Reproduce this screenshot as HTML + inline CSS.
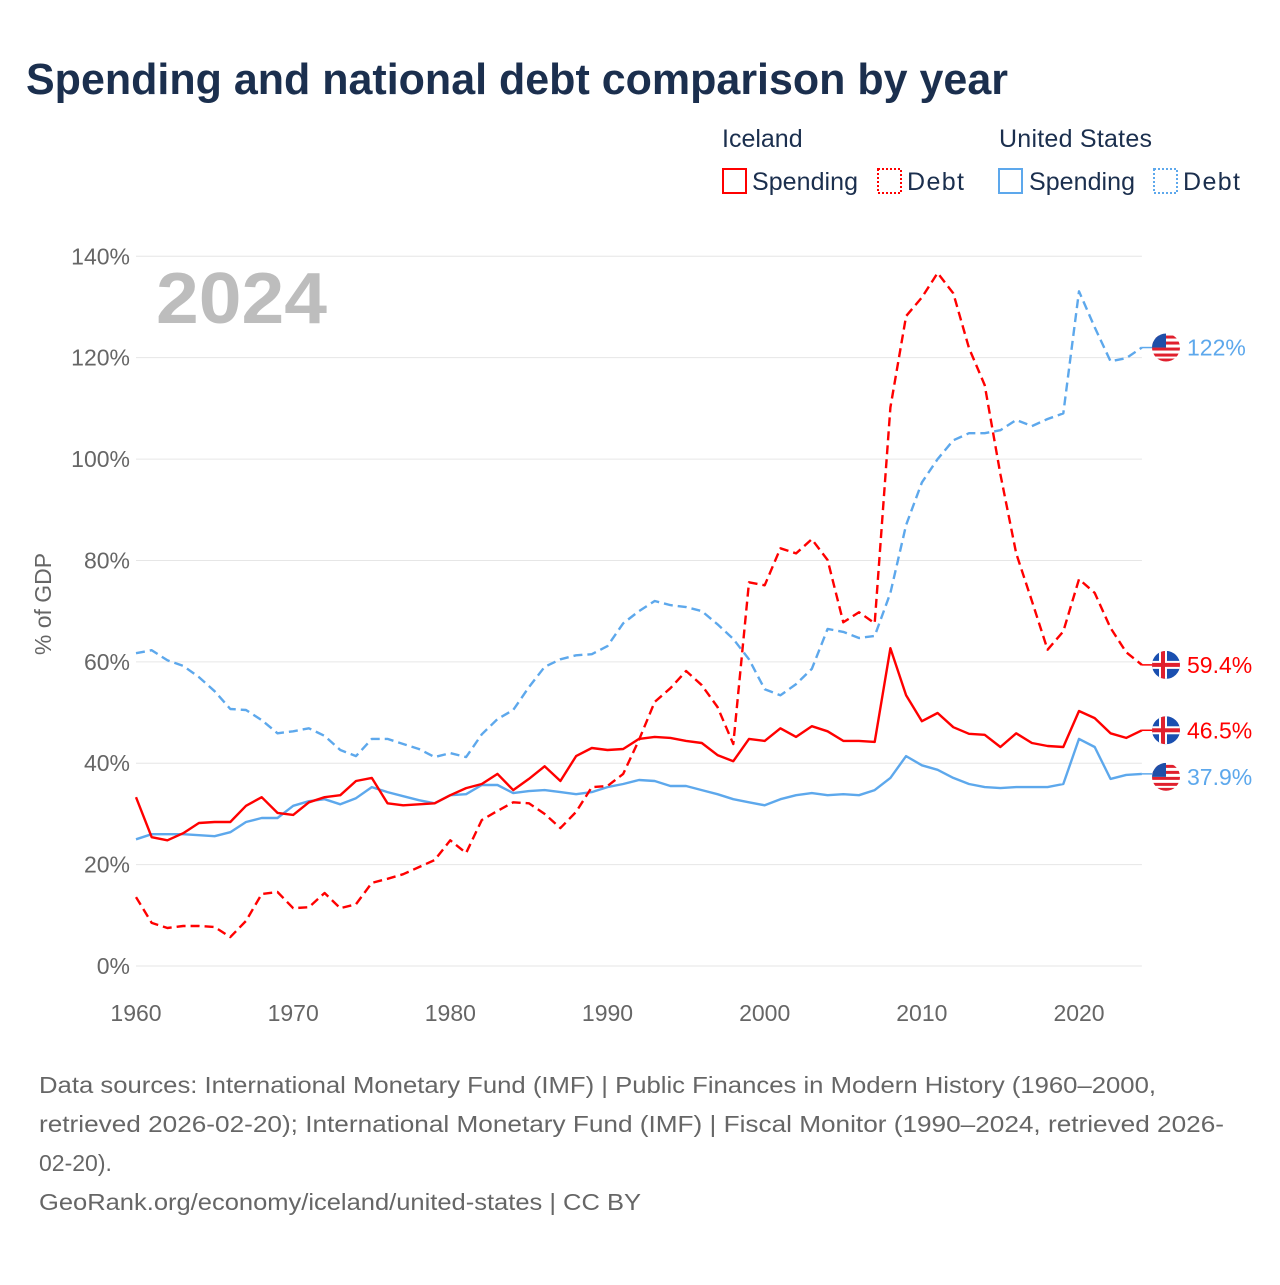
<!DOCTYPE html>
<html><head><meta charset="utf-8"><style>
body{margin:0;background:#fff;width:1280px;height:1280px;overflow:hidden;font-family:"Liberation Sans",sans-serif}
</style></head><body>
<svg id="chart" width="1280" height="1280" xmlns="http://www.w3.org/2000/svg">
<defs>
<clipPath id="cf"><circle cx="0" cy="0" r="14"/></clipPath>
<g id="usflag"><g clip-path="url(#cf)"><rect x="-14" y="-14" width="28" height="28" fill="#fff"/>
<rect x="-14" y="-12" width="28" height="3" fill="#e0202e"/><rect x="-14" y="-6" width="28" height="3" fill="#e0202e"/><rect x="-14" y="0" width="28" height="3" fill="#e0202e"/><rect x="-14" y="6" width="28" height="3" fill="#e0202e"/><rect x="-14" y="11" width="28" height="3" fill="#e0202e"/>
<rect x="-14" y="-14" width="14" height="14" fill="#1f4fa8"/></g></g>
<g id="isflag"><g clip-path="url(#cf)"><rect x="-14" y="-14" width="28" height="28" fill="#1a4fb0"/>
<rect x="-7" y="-14" width="8" height="28" fill="#fff"/><rect x="-14" y="-4" width="28" height="8" fill="#fff"/>
<rect x="-5" y="-14" width="4" height="28" fill="#e0202e"/><rect x="-14" y="-2" width="28" height="4" fill="#e0202e"/></g></g>
</defs>
<text x="26" y="94" font-size="44" font-weight="bold" fill="#1b2f4e" textLength="982" lengthAdjust="spacingAndGlyphs">Spending and national debt comparison by year</text>
<g font-size="25" fill="#1b2f4e">
<text x="722" y="147">Iceland</text>
<text x="999" y="147" textLength="153">United States</text>
<g><rect x="723" y="169" width="23" height="24" fill="none" stroke="#f00" stroke-width="2"/><text x="752" y="190" textLength="106">Spending</text></g>
<g><rect x="878" y="169" width="23" height="24" fill="none" stroke="#f00" stroke-width="2" stroke-dasharray="2,2"/><text x="907" y="190" textLength="57">Debt</text></g>
<g><rect x="999" y="169" width="23" height="24" fill="none" stroke="#5da8ec" stroke-width="2"/><text x="1029" y="190" textLength="106">Spending</text></g>
<g><rect x="1154" y="169" width="23" height="24" fill="none" stroke="#5da8ec" stroke-width="2" stroke-dasharray="2,2"/><text x="1183" y="190" textLength="57">Debt</text></g>
</g>
<text x="156" y="323" font-size="72" font-weight="bold" fill="#bdbdbd" textLength="171" lengthAdjust="spacingAndGlyphs">2024</text>
<text transform="translate(51,604) rotate(-90)" text-anchor="middle" font-size="23" fill="#666">% of GDP</text>
<g id="grid"></g><g id="series"></g><g id="ends"></g>
<g font-size="23" fill="#666">
<text x="39" y="1093" textLength="1117" lengthAdjust="spacingAndGlyphs">Data sources: International Monetary Fund (IMF) | Public Finances in Modern History (1960–2000,</text>
<text x="39" y="1132" textLength="1185" lengthAdjust="spacingAndGlyphs">retrieved 2026-02-20); International Monetary Fund (IMF) | Fiscal Monitor (1990–2024, retrieved 2026-</text>
<text x="39" y="1171">02-20).</text>
<text x="39" y="1210" textLength="602" lengthAdjust="spacingAndGlyphs">GeoRank.org/economy/iceland/united-states | CC BY</text>
</g>
</svg>
<script>
const startYear = 1960;
const yTicks = [0,20,40,60,80,100,120,140];
const xTicks = [1960,1970,1980,1990,2000,2010,2020];
const icelandSpending = [33.3,25.4,24.8,26.2,28.2,28.4,28.4,31.6,33.3,30.2,29.8,32.3,33.3,33.7,36.5,37.1,32.1,31.7,31.9,32.1,33.7,35.1,35.9,37.9,34.7,36.9,39.4,36.5,41.4,43.0,42.6,42.8,44.8,45.2,45.0,44.4,44.0,41.6,40.4,44.8,44.4,46.9,45.2,47.3,46.3,44.4,44.4,44.2,62.7,53.4,48.3,49.9,47.1,45.8,45.6,43.2,45.9,44.0,43.4,43.2,50.3,48.9,45.9,45.0,46.5];
const icelandDebt = [13.6,8.5,7.5,7.9,7.9,7.7,5.7,8.9,14.2,14.6,11.4,11.6,14.4,11.4,12.2,16.4,17.2,18.1,19.5,20.9,24.8,22.3,28.8,30.6,32.3,32.1,30.0,27.2,30.4,35.3,35.5,37.9,44.6,52.1,54.8,58.2,55.4,51.1,43.8,75.7,75.1,82.4,81.4,84.2,80.1,67.8,69.8,67.6,110.2,128.2,131.9,136.7,132.7,121.9,114.6,97.0,81.4,72.0,62.4,66.0,76.3,73.6,66.7,61.9,59.4];
const usSpending = [25.0,26.0,26.0,26.0,25.8,25.6,26.4,28.4,29.2,29.2,31.6,32.5,32.9,31.9,33.1,35.3,34.3,33.5,32.7,32.1,33.7,33.9,35.7,35.7,34.1,34.5,34.7,34.3,33.9,34.3,35.3,35.9,36.7,36.5,35.5,35.5,34.7,33.9,32.9,32.3,31.7,32.9,33.7,34.1,33.7,33.9,33.7,34.7,37.1,41.4,39.6,38.7,37.1,35.9,35.3,35.1,35.3,35.3,35.3,35.9,44.8,43.2,36.9,37.7,37.9];
const usDebt = [61.7,62.3,60.3,59.2,57.0,54.2,50.7,50.5,48.5,45.9,46.3,46.9,45.4,42.6,41.4,44.8,44.8,43.8,42.8,41.2,42.0,41.2,45.7,48.7,50.5,55.0,59.0,60.5,61.3,61.5,63.1,67.6,70.0,72.0,71.2,70.8,70.0,67.4,64.5,60.5,54.6,53.4,55.6,58.6,66.5,65.9,64.7,65.1,73.6,87.0,95.4,100.0,103.7,105.1,105.1,105.7,107.7,106.5,107.9,109.0,133.1,126.0,119.3,119.9,122.0];
const endLabels = ['59.4%','46.5%','37.9%','122%'];

const NS='http://www.w3.org/2000/svg';
const X0=136,X1=1141.9,Y0=966,Y140=256.3;
const xs=y=>X0+(y-1960)*(X1-X0)/64;
const ys=v=>Y0-v*(Y0-Y140)/140;
function mk(t,a,p){const e=document.createElementNS(NS,t);for(const k in a)e.setAttribute(k,a[k]);p.appendChild(e);return e;}
const grid=document.getElementById('grid');
yTicks.forEach(t=>{
  const l=mk('line',{x1:X0,x2:X1,y1:ys(t),y2:ys(t),stroke:'#e6e6e6','stroke-width':1},grid);
  
  
  const tx=mk('text',{x:130,y:ys(t)+8,'text-anchor':'end','font-size':23,fill:'#666'},grid);
  tx.textContent=t+'%';
  
  
});
xTicks.forEach(t=>{
  const tx=mk('text',{x:xs(t),y:1021,'text-anchor':'middle','font-size':23,fill:'#666'},grid);
  tx.textContent=t;
  
  
});
const ser=document.getElementById('series');
function line(d,color,dash,name){
  const pts=d.map((v,i)=>xs(startYear+i).toFixed(1)+','+ys(v).toFixed(1)).join(' ');
  const p=mk('polyline',{points:pts,fill:'none',stroke:color,'stroke-width':2.4,'stroke-linejoin':'round'},ser);
  if(dash)p.setAttribute('stroke-dasharray','9,5');
  
  
}
line(usSpending,'#5da8ec',false,'us-spending-line');
line(usDebt,'#5da8ec',true,'us-debt-line');
line(icelandSpending,'#f00',false,'iceland-spending-line');
line(icelandDebt,'#f00',true,'iceland-debt-line');
const ends=document.getElementById('ends');
const endData=[[icelandDebt,'#f00','isflag','iceland-debt-end-label',0],[icelandSpending,'#f00','isflag','iceland-spending-end-label',0],[usSpending,'#5da8ec','usflag','us-spending-end-label',3],[usDebt,'#5da8ec','usflag','us-debt-end-label',0]];
endData.forEach((e,i)=>{
  const v=e[0][e[0].length-1];const y=ys(v)+e[4];
  mk('line',{x1:X1,x2:1152,y1:ys(v),y2:ys(v),stroke:e[1],'stroke-width':1.5},ends);
  const u=mk('use',{href:'#'+e[2],x:1166,y:y},ends);
  
  
  const t=mk('text',{x:1187,y:y+8,'font-size':23,fill:e[1]},ends);
  t.textContent=endLabels[i];
  
  
});
</script>
</body></html>
